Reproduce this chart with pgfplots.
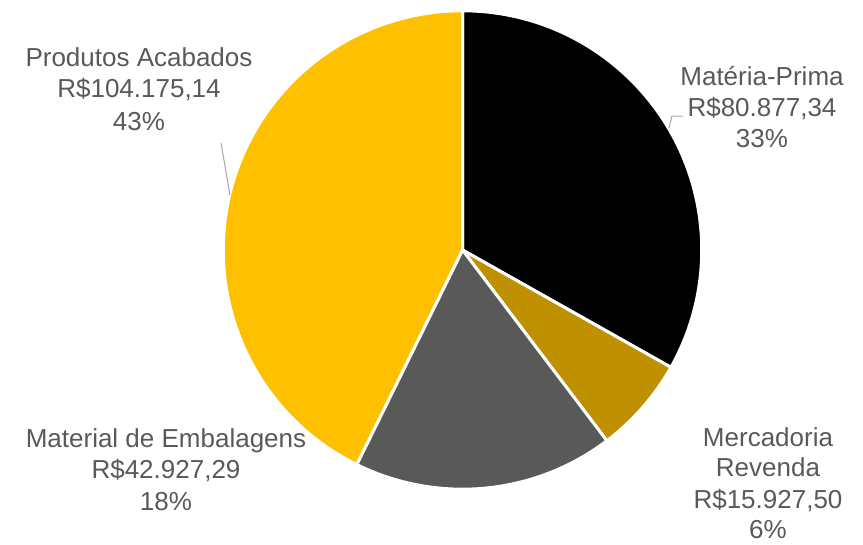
\documentclass[border=0pt]{standalone}
\usepackage{pgfplots}
\usepackage{pgfplotstable}
\pgfplotsset{compat=1.18}
\usepackage{fontspec}
\setmainfont{Liberation Sans}
\definecolor{txt}{HTML}{595959}
\definecolor{c1}{HTML}{000000}
\definecolor{c2}{HTML}{BF9000}
\definecolor{c3}{HTML}{595959}
\definecolor{c4}{HTML}{FFC000}
\definecolor{lead}{HTML}{A6A6A6}

\pgfplotstableread{
value
80877.34
15927.50
42927.29
104175.14
}\piedata

\begin{document}
\begin{tikzpicture}
\pgfplotstablegetelem{0}{value}\of\piedata \edef\va{\pgfplotsretval}
\pgfplotstablegetelem{1}{value}\of\piedata \edef\vb{\pgfplotsretval}
\pgfplotstablegetelem{2}{value}\of\piedata \edef\vc{\pgfplotsretval}
\pgfplotstablegetelem{3}{value}\of\piedata \edef\vd{\pgfplotsretval}
\edef\tot{\fpeval{\va+\vb+\vc+\vd}}
\edef\aA{\fpeval{90-360*\va/\tot}}
\edef\aB{\fpeval{\aA-360*\vb/\tot}}
\edef\aC{\fpeval{\aB-360*\vc/\tot}}
\edef\aD{\fpeval{\aC-360*\vd/\tot}}
\begin{axis}[hide axis, scale only axis, width=647.25pt, height=408pt,
  xmin=0, xmax=863, ymin=0, ymax=544, clip=false]
\path (axis cs:0,0) rectangle (axis cs:863,544);
\def\R{179.4pt}
\fill[c1, draw=white, line width=2.25pt, line join=round] (axis cs:462.5,294) -- ++(90:\R) arc[start angle=90, end angle=\aA, radius=\R] -- cycle;
\fill[c2, draw=white, line width=2.25pt, line join=round] (axis cs:462.5,294) -- ++(\aA:\R) arc[start angle=\aA, end angle=\aB, radius=\R] -- cycle;
\fill[c3, draw=white, line width=2.25pt, line join=round] (axis cs:462.5,294) -- ++(\aB:\R) arc[start angle=\aB, end angle=\aC, radius=\R] -- cycle;
\fill[c4, draw=white, line width=2.25pt, line join=round] (axis cs:462.5,294) -- ++(\aC:\R) arc[start angle=\aC, end angle=\aD, radius=\R] -- cycle;
% leader lines
\draw[lead, line width=0.75pt] (axis cs:221,401) -- (axis cs:230,349);
\draw[lead, line width=0.75pt] (axis cs:683,428) -- (axis cs:672,428) -- (axis cs:669,416);
% labels
\tikzset{lbl/.style={anchor=base, inner sep=0pt, text=txt, font=\fontsize{19.5}{24}\selectfont}}
\node[lbl] at (axis cs:139,477.3) {Produtos Acabados};
\node[lbl] at (axis cs:139,446) {R\$104.175,14};
\node[lbl] at (axis cs:139,414) {43\%};
\node[lbl] at (axis cs:762,459) {Matéria-Prima};
\node[lbl] at (axis cs:762,428) {R\$80.877,34};
\node[lbl] at (axis cs:762,397) {33\%};
\node[lbl] at (axis cs:166,96.7) {Material de Embalagens};
\node[lbl] at (axis cs:166,65.7) {R\$42.927,29};
\node[lbl] at (axis cs:166,34) {18\%};
\node[lbl] at (axis cs:768,98) {Mercadoria};
\node[lbl] at (axis cs:768,67.3) {Revenda};
\node[lbl] at (axis cs:768,36) {R\$15.927,50};
\node[lbl] at (axis cs:768,6) {6\%};
\end{axis}
\end{tikzpicture}
\end{document}
